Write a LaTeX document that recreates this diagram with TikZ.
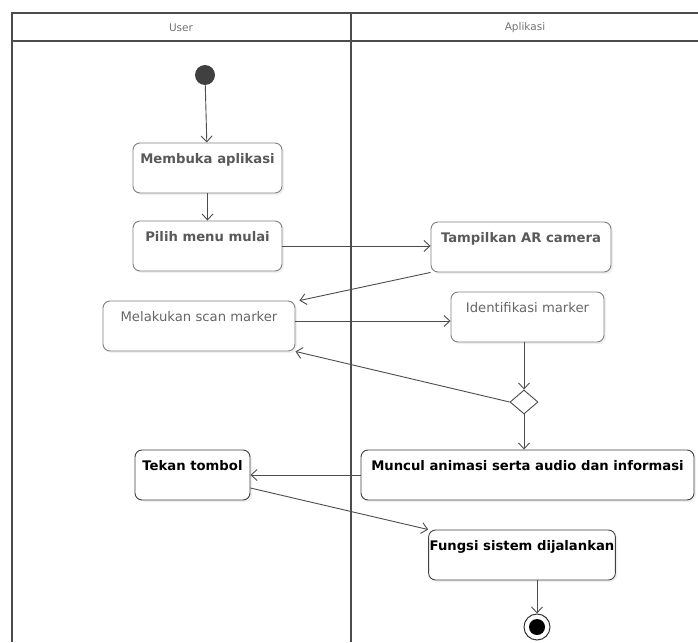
\documentclass[tikz,border=0pt]{standalone}
\usepackage{fontspec}
\setmainfont{DejaVu Sans}
\usetikzlibrary{arrows.meta,shapes.geometric,shadows}

\begin{document}
\begin{tikzpicture}[x=1pt,y=-1pt,
  lane/.style={draw=black!70, line width=1.5pt},
  head/.style={font=\fontsize{10.5}{12}\selectfont, text=black!55},
  act/.style={draw=#1, rounded corners=7pt, fill=white, line width=0.9pt,
    inner xsep=1pt, inner ysep=4pt, text height=16pt, text depth=26pt,
    drop shadow={opacity=0.12, shadow xshift=2pt, shadow yshift=-2pt}},
  upper/.style={act=black!50, text=black!65, font=\bfseries\fontsize{13.2}{15}\selectfont},
  plain/.style={act=black!50, text=black!60, font=\fontsize{13.2}{15}\selectfont},
  lower/.style={act=black!75, text=black, font=\bfseries\fontsize{13.2}{15}\selectfont},
  flow/.style={draw=black!70, line width=0.9pt, -{Straight Barb[length=6pt,width=11pt]}},
]
\useasboundingbox (0,0) rectangle (698,642);

% swimlanes
\draw[lane] (12,642) -- (12,13) -- (698,13);
\draw[lane] (12,41) -- (698,41);
\draw[lane] (351,13) -- (351,642);
\node[head] (huser) at (181,28) {User};
\node[head] (happ) at (525,28) {Aplikasi};

% activities
\node[circle, fill=black!75, minimum size=20pt, inner sep=0pt] (start) at (205,75) {};
\node[upper, minimum width=149pt] (buka) at (207.5,168) {Membuka aplikasi};
\node[upper, minimum width=149pt] (pilih) at (207.5,246) {Pilih menu mulai};
\node[plain, minimum width=192pt] (scan) at (199,326) {Melakukan scan marker};
\node[upper, minimum width=180pt] (tamp) at (521,247) {Tampilkan AR camera};
\node[plain, minimum width=153pt] (ident) at (527.5,317) {Identifikasi marker};
\node[diamond, draw=black!70, line width=0.9pt, fill=white, inner sep=0pt,
      minimum width=28pt, minimum height=24pt] (dec) at (524,402) {};
\node[lower, minimum width=333pt] (muncul) at (527.5,475) {Muncul animasi serta audio dan informasi};
\node[lower, minimum width=115pt] (tekan) at (192.5,475) {Tekan tombol};
\node[lower, minimum width=182pt] (fungsi) at (522,555) {Fungsi sistem dijalankan};
\node[circle, draw=black!80, line width=1pt, fill=white, minimum size=26pt, inner sep=0pt] (stop) at (537,627) {};
\node[circle, fill=black, minimum size=16pt, inner sep=0pt] (stopin) at (stop) {};

% transitions
\draw[flow] (start) -- (buka);
\draw[flow] (buka) -- (pilih);
\draw[flow] (pilih.east) -- (pilih.east -| tamp.west);
\draw[flow] (tamp.south west) -- ([xshift=4pt]scan.north east);
\draw[flow] ([yshift=5pt]scan.east) -- ([yshift=5pt]scan.east -| ident.west);
\draw[flow] (ident.south -| dec.north) -- (dec.north);
\draw[flow] (dec.west) -- (scan.south east);
\draw[flow] (dec.south) -- (dec.south |- muncul.north);
\draw[flow] (muncul.west) -- (tekan.east);
\draw[flow] ([yshift=-13pt]tekan.east) -- (fungsi.north west);
\draw[flow] (fungsi.south -| stop.north) -- (stop.north);
\end{tikzpicture}
\end{document}
